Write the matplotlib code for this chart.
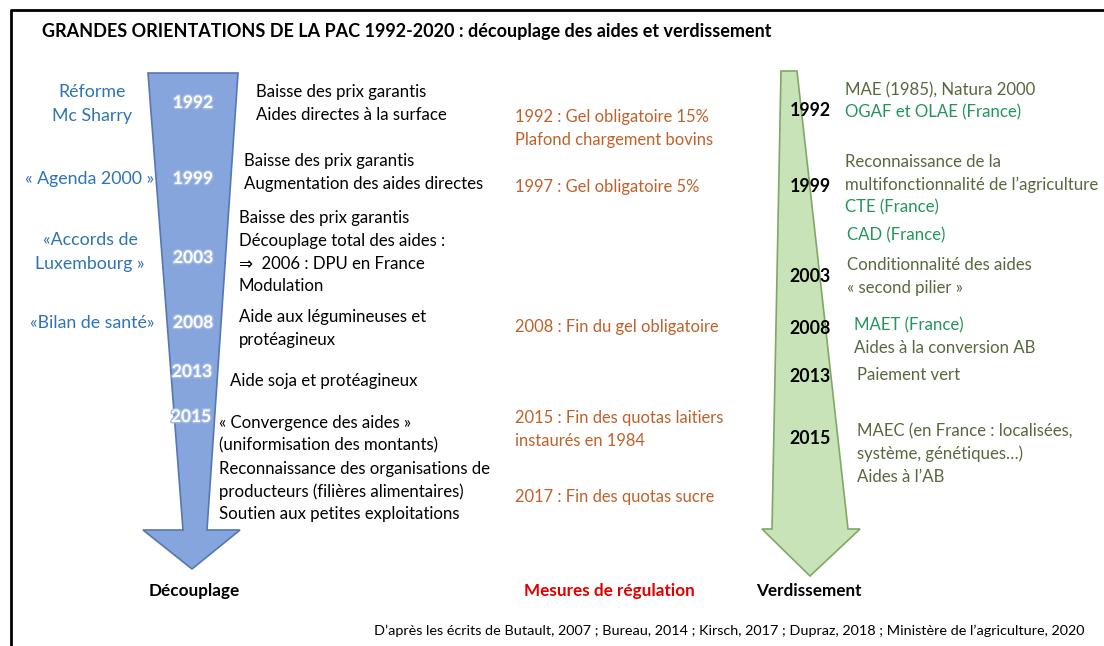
# Grandes orientations de la PAC 1992-2020
# schema : decouplage / regulation / verdissement
# ------------------------------------------------

import matplotlib.pyplot as plt
from matplotlib.patches import Polygon
import matplotlib.patheffects as pe

plt.rcParams['font.family'] = ['Lato', 'DejaVu Sans']

# Donnees : annees et textes
annees_decouplage = ['1992', '1999', '2003', '2008', '2013', '2015']
reformes = ['Réforme\nMc Sharry', '« Agenda 2000 »', '«Accords de\nLuxembourg »', '«Bilan de santé»']
mesures_decouplage = [
    ['Baisse des prix garantis', 'Aides directes à la surface'],
    ['Baisse des prix garantis', 'Augmentation des aides directes'],
    ['Baisse des prix garantis', 'Découplage total des aides :', '⇒  2006 : DPU en France', 'Modulation'],
    ['Aide aux légumineuses et', 'protéagineux'],
    ['Aide soja et protéagineux'],
    ['« Convergence des aides »', '(uniformisation des montants)',
     'Reconnaissance des organisations de', 'producteurs (filières alimentaires)',
     'Soutien aux petites exploitations'],
]
regulation = [
    ['1992 : Gel obligatoire 15%', 'Plafond chargement bovins'],
    ['1997 : Gel obligatoire 5%'],
    ['2008 : Fin du gel obligatoire'],
    ['2015 : Fin des quotas laitiers', 'instaurés en 1984'],
    ['2017 : Fin des quotas sucre'],
]
annees_verdissement = ['1992', '1999', '2003', '2008', '2013', '2015']
# (texte, France ?) -> couleur verte vive pour les dispositifs francais
verdissement = [
    [('MAE (1985), Natura 2000', False), ('OGAF et OLAE (France)', True)],
    [('Reconnaissance de la', False), ('multifonctionnalité de l’agriculture', False), ('CTE (France)', True)],
    [('CAD (France)', True)],
    [('Conditionnalité des aides', False), ('« second pilier »', False)],
    [('MAET (France)', True), ('Aides à la conversion AB', False)],
    [('Paiement vert', False)],
    [('MAEC (en France : localisées,', False), ('système, génétiques…)', False), ('Aides à l’AB', False)],
]
titre = 'GRANDES ORIENTATIONS DE LA PAC 1992-2020 : découplage des aides et verdissement'
source = ('D’après les écrits de Butault, 2007 ; Bureau, 2014 ; Kirsch, 2017 ; '
          'Dupraz, 2018 ; Ministère de l’agriculture, 2020')

# Mise en page (coordonnees en pixels)
y_annees_g = [103, 179, 258, 323, 372, 417]
x_annees_g = [193, 193, 193, 193, 192, 191]
pos_reformes = [(92, 104), (90, 179), (90, 252), (92, 323)]
pos_mesures = [(256, 92), (244, 161), (239, 218), (239, 317), (230, 381), (219, 423)]
pos_regulation = [(515, 117), (515, 187), (515, 327), (515, 418), (515, 497)]
y_annees_d = [110, 187, 276, 329, 376, 438]
pos_verd = [(845, 90), (845, 162), (847, 235), (847, 265), (854, 325), (857, 375), (857, 431)]
interligne = 22.8

BLEU = '#2E74B5'
ORANGE = '#C0612B'
VERT_GRIS = '#57683F'
VERT = '#22955A'
TAILLE = 12.1

fig = plt.figure(figsize=(11.04, 6.46), dpi=100)
ax = fig.add_axes([0, 0, 1, 1])
ax.set_xlim(0, 1104)
ax.set_ylim(646, 0)
ax.axis('off')

# cadre
ax.plot([11, 11, 1104], [646, 10, 10], color='black', lw=2)

# fleche bleue (decouplage)
fleche_bleue = Polygon([(148, 73), (238, 73), (207, 530), (240, 530), (192, 569),
                        (143, 530), (183, 530)], closed=True,
                       facecolor='#86A5DC', edgecolor='#5577B5', lw=1.2)
ax.add_patch(fleche_bleue)

# fleche verte (verdissement)
fleche_verte = Polygon([(781, 71), (797, 71), (848, 529), (860, 529), (810, 576),
                        (762, 529), (772, 529)], closed=True,
                       facecolor='#C8E3B8', edgecolor='#7FA865', lw=1.2)
ax.add_patch(fleche_verte)

ax.text(42, 32, titre, fontsize=12.95, fontweight='bold', va='center', ha='left')

for annee, x, y in zip(annees_decouplage, x_annees_g, y_annees_g):
    ax.text(x, y, annee, color='white', fontsize=12.5, fontweight='bold',
            ha='center', va='center',
            path_effects=[pe.withStroke(linewidth=2, foreground='#A3BAE6')])

for txt, (x, y) in zip(reformes, pos_reformes):
    ax.text(x, y, txt, color=BLEU, fontsize=12.8, ha='center', va='center',
            linespacing=1.55)

for lignes, (x, y) in zip(mesures_decouplage, pos_mesures):
    for i, ligne in enumerate(lignes):
        ax.text(x, y + i * interligne, ligne, fontsize=TAILLE, va='center', ha='left')

for lignes, (x, y) in zip(regulation, pos_regulation):
    for i, ligne in enumerate(lignes):
        ax.text(x, y + i * interligne, ligne, color=ORANGE, fontsize=11.9,
                va='center', ha='left')

for annee, y in zip(annees_verdissement, y_annees_d):
    ax.text(810, y, annee, color='black', fontsize=12.8, fontweight='bold',
            ha='center', va='center')

for lignes, (x, y) in zip(verdissement, pos_verd):
    for i, (ligne, france) in enumerate(lignes):
        ax.text(x, y + i * interligne, ligne, color=VERT if france else VERT_GRIS,
                fontsize=TAILLE, va='center', ha='left')

# legendes en bas
ax.text(194, 591, 'Découplage', fontsize=12.3, fontweight='bold', ha='center', va='center')
ax.text(609, 591, 'Mesures de régulation', fontsize=12.3, fontweight='bold',
        color='#E00000', ha='center', va='center')
ax.text(809, 591, 'Verdissement', fontsize=12.3, fontweight='bold', ha='center', va='center')
ax.text(1085, 631, source, fontsize=10.4, ha='right', va='center')

plt.savefig('out.png', dpi=100)
